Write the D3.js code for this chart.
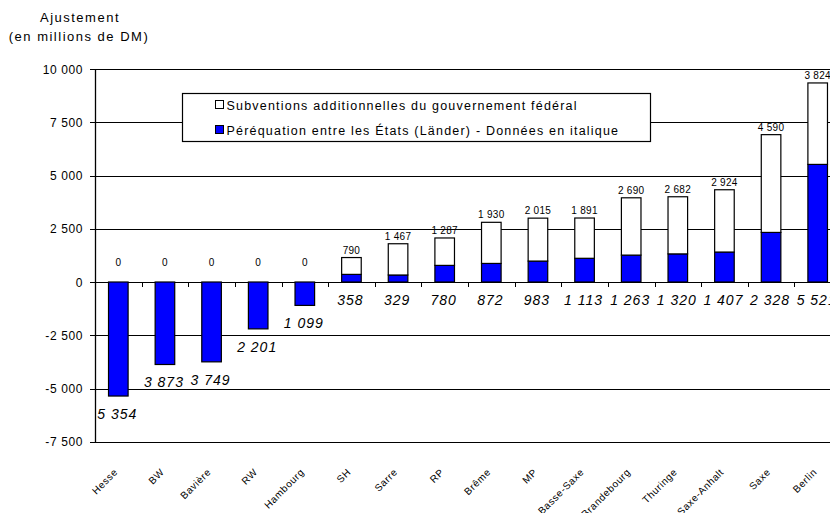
<!DOCTYPE html>
<html>
<head>
<meta charset="utf-8">
<script src="https://cdn.jsdelivr.net/npm/d3@7"></script>
<style>
  body { margin: 0; background: #fff; }
  svg { display: block; font-family: "Liberation Sans", Arial, sans-serif; }
</style>
</head>
<body>
<div id="chart"></div>
<script>
// Länder, in the order of the chart
var laender = ["Hesse", "BW", "Bavière", "RW", "Hambourg", "SH", "Sarre", "RP", "Brême",
  "MP", "Basse-Saxe", "Brandebourg", "Thuringe", "Saxe-Anhalt", "Saxe", "Berlin"];
// Péréquation entre les États (blue)
var perequation = [-5354, -3873, -3749, -2201, -1099, 358, 329, 780, 872,
  983, 1113, 1263, 1320, 1407, 2328, 5521];
// Subventions additionnelles du gouvernement fédéral (white)
var subventions = [0, 0, 0, 0, 0, 790, 1467, 1287, 1930,
  2015, 1891, 2690, 2682, 2924, 4590, 3824];
var yTicks = [-7500, -5000, -2500, 0, 2500, 5000, 7500, 10000];
var legendLabels = ["Subventions additionnelles du gouvernement fédéral",
  "Péréquation entre les États (Länder) - Données en italique"];

function render_chart() {
  const width = 830, height = 513;
  const left = 95, top = 69, right = 841, bottom = 441.75;
  const blue = "#0000ff";

  const fr = d3.formatLocale({decimal: ",", thousands: "\u00a0", grouping: [3], currency: ["", ""], minus: "-"});
  const fmt = fr.format(",d");

  var svg = d3.select("#chart").append("svg")
      .attr("width", width)
      .attr("height", height);

  var data = laender.map(function(d, i) {
    return {name: d, p: perequation[i], s: subventions[i]};
  });

  var x = d3.scaleBand()
    .domain(laender)
    .range([left, right])
    .paddingInner(0.58)
    .paddingOuter(0.29);
  var step = x.step();

  var y = d3.scaleLinear()
    .domain([-7500, 10000])
    .range([bottom, top]);

  // title
  svg.append("text")
    .attr("x", 80).attr("y", 22)
    .attr("text-anchor", "middle")
    .style("font-size", "13px").style("letter-spacing", "1.5px")
    .text("Ajustement");
  svg.append("text")
    .attr("x", 79).attr("y", 41)
    .attr("text-anchor", "middle")
    .style("font-size", "13px").style("letter-spacing", "1.5px")
    .text("(en millions de DM)");

  // grid lines
  svg.append("g")
    .selectAll("line")
    .data(yTicks)
    .enter()
    .append("line")
      .attr("x1", left - 5)
      .attr("x2", right)
      .attr("y1", function(d) { return Math.round(y(d)) + 0.5; })
      .attr("y2", function(d) { return Math.round(y(d)) + 0.5; })
      .attr("stroke", "#000")
      .attr("stroke-width", 1);

  // y tick labels
  svg.append("g")
    .selectAll("text")
    .data(yTicks)
    .enter()
    .append("text")
      .attr("x", 83)
      .attr("y", function(d) { return y(d) + 4.5; })
      .attr("text-anchor", "end")
      .style("font-size", "12px")
      .style("letter-spacing", "0.6px")
      .text(function(d) { return fmt(d); });

  // left axis line
  svg.append("line")
    .attr("x1", left + 0.5).attr("x2", left + 0.5)
    .attr("y1", y(10000)).attr("y2", y(-7500) + 1)
    .attr("stroke", "#000").attr("stroke-width", 1.3);

  // category ticks on the zero line
  svg.append("g")
    .selectAll("line")
    .data(d3.range(1, laender.length))
    .enter()
    .append("line")
      .attr("x1", function(k) { return Math.round(left + k * step) + 0.5; })
      .attr("x2", function(k) { return Math.round(left + k * step) + 0.5; })
      .attr("y1", Math.round(y(0)))
      .attr("y2", Math.round(y(0)) + 5)
      .attr("stroke", "#000");

  var bars = svg.append("g");

  // blue bars
  bars.selectAll("rect.p")
    .data(data)
    .enter()
    .append("rect")
      .attr("class", "p")
      .attr("x", function(d) { return x(d.name); })
      .attr("width", x.bandwidth())
      .attr("y", function(d) { return y(Math.max(d.p, 0)); })
      .attr("height", function(d) { return Math.abs(y(d.p) - y(0)); })
      .attr("fill", blue)
      .attr("stroke", "#000")
      .attr("stroke-width", 1.2);

  // white bars stacked on the positive part
  bars.selectAll("rect.s")
    .data(data.filter(function(d) { return d.s > 0; }))
    .enter()
    .append("rect")
      .attr("class", "s")
      .attr("x", function(d) { return x(d.name); })
      .attr("width", x.bandwidth())
      .attr("y", function(d) { return y(Math.max(d.p, 0) + d.s); })
      .attr("height", function(d) { return y(Math.max(d.p, 0)) - y(Math.max(d.p, 0) + d.s); })
      .attr("fill", "#fff")
      .attr("stroke", "#000")
      .attr("stroke-width", 1.2);

  // labels of the federal grants, above the bars
  svg.append("g")
    .selectAll("text")
    .data(data)
    .enter()
    .append("text")
      .attr("x", function(d) { return x(d.name) + x.bandwidth() / 2; })
      .attr("y", function(d) { return Math.min(y(Math.max(d.p, 0) + d.s) - 4, y(0) - 16); })
      .attr("text-anchor", "middle")
      .style("font-size", "10px")
      .style("letter-spacing", "0.3px")
      .text(function(d) { return fmt(d.s); });

  // labels of the equalisation, italic, below
  svg.append("g")
    .selectAll("text")
    .data(data)
    .enter()
    .append("text")
      .attr("x", function(d) { return x(d.name) + x.bandwidth() / 2 - 1; })
      .attr("y", function(d) { return y(Math.min(d.p, 0)) + 23; })
      .attr("text-anchor", "middle")
      .style("font-size", "14px")
      .style("font-style", "italic")
      .style("letter-spacing", "1px")
      .text(function(d) { return fmt(Math.abs(d.p)); });

  // category labels, rotated
  svg.append("g")
    .selectAll("text")
    .data(laender)
    .enter()
    .append("text")
      .attr("transform", function(d) {
        return "translate(" + (x(d) + x.bandwidth() / 2) + "," + (y(-7500) + 31) + ") rotate(-45)";
      })
      .attr("text-anchor", "end")
      .style("font-size", "10px")
      .style("letter-spacing", "0.6px")
      .text(function(d) { return d; });

  // legend
  var lg = svg.append("g").attr("transform", "translate(182.5,93.5)");
  lg.append("rect")
    .attr("width", 468).attr("height", 48)
    .attr("fill", "#fff").attr("stroke", "#000").attr("stroke-width", 1.2);
  lg.selectAll("rect.key")
    .data(legendLabels)
    .enter()
    .append("rect")
      .attr("class", "key")
      .attr("x", 33)
      .attr("y", function(d, i) { return 7 + i * 25; })
      .attr("width", 8).attr("height", 8)
      .attr("fill", function(d, i) { return i === 0 ? "#fff" : blue; })
      .attr("stroke", "#000");
  lg.selectAll("text")
    .data(legendLabels)
    .enter()
    .append("text")
      .attr("x", 44)
      .attr("y", function(d, i) { return 16 + i * 25; })
      .style("font-size", "12.5px")
      .style("letter-spacing", "1.2px")
      .text(function(d) { return d; });
}

render_chart();
</script>
</body>
</html>
